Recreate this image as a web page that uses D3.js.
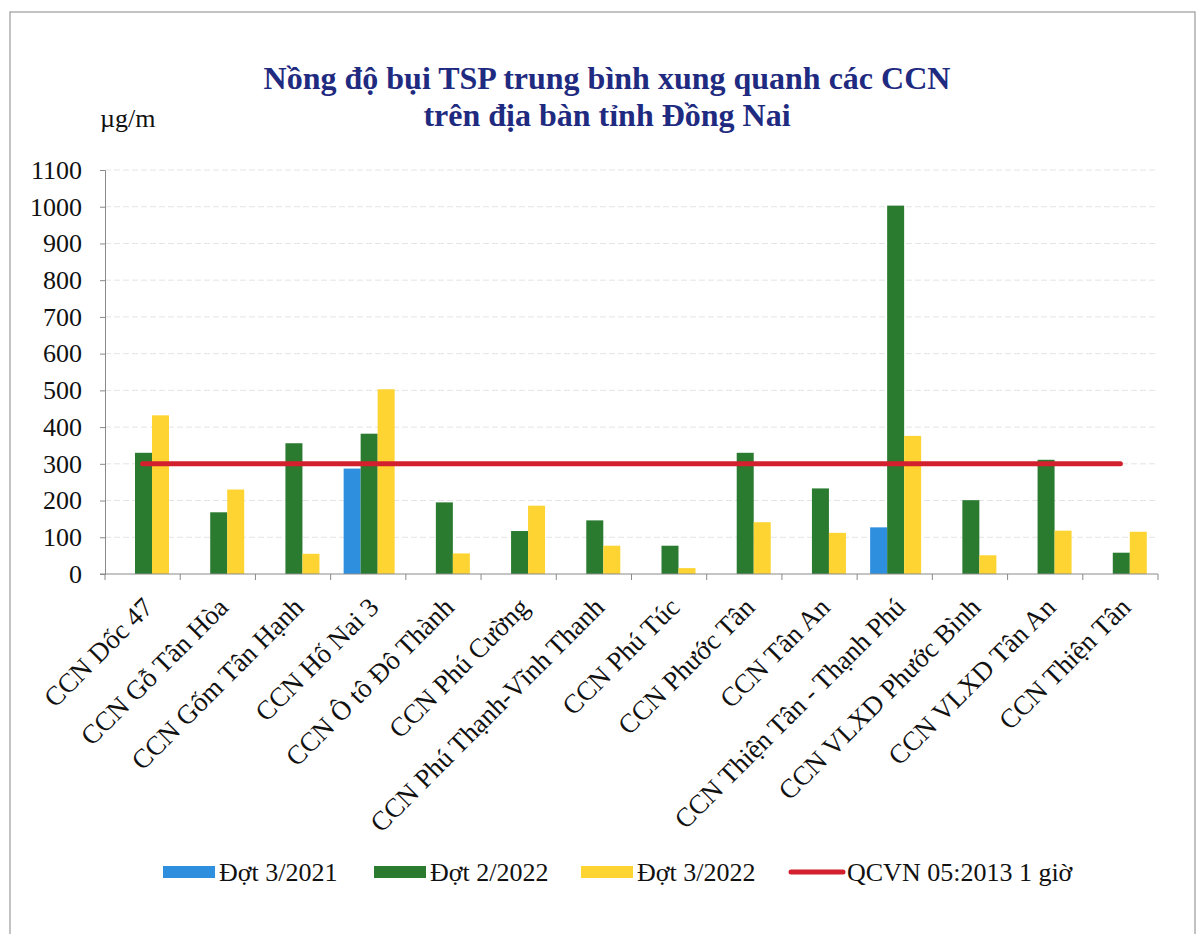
<!DOCTYPE html>
<html>
<head>
<meta charset="utf-8">
<script src="https://cdn.jsdelivr.net/npm/d3@7"></script>
<style>
  body { margin: 0; background: #fff; }
  svg text { font-family: "Liberation Serif", "Times New Roman", serif !important; }
</style>
</head>
<body>
<div id="chart"></div>
<script>
// Data
const categories = [
  "CCN Dốc 47", "CCN Gỗ Tân Hòa", "CCN Gốm Tân Hạnh", "CCN Hố Nai 3",
  "CCN Ô tô Đô Thành", "CCN Phú Cường", "CCN Phú Thạnh-Vĩnh Thanh", "CCN Phú Túc",
  "CCN Phước Tân", "CCN Tân An", "CCN Thiện Tân - Thạnh Phú", "CCN VLXD Phước Bình",
  "CCN VLXD Tân An", "CCN Thiện Tân"
];
const dot3_2021 = [null, null, null, 287, null, null, null, null, null, null, 127, null, null, null];
const dot2_2022 = [330, 168, 356, 382, 195, 117, 146, 77, 330, 233, 1003, 201, 311, 58];
const dot3_2022 = [432, 230, 55, 503, 56, 186, 77, 16, 141, 112, 376, 51, 118, 115];
const qcvn = [300, 300, 300, 300, 300, 300, 300, 300, 300, 300, 300, 300, 300, 300];
const yTicks = [0, 100, 200, 300, 400, 500, 600, 700, 800, 900, 1000, 1100];

const seriesNames = ["Đợt 3/2021", "Đợt 2/2022", "Đợt 3/2022"];
const seriesColors = ["#2f8fdf", "#2a7a2f", "#fdd431"];
const lineName = "QCVN 05:2013 1 giờ";
const lineColor = "#d2202f";

const FONT = "'Liberation Serif', 'Times New Roman', serif";
const W = 1204, H = 934;
const margin = { top: 170, left: 105, right: 46, bottom: 360 };
const width = W - margin.left - margin.right;
const height = H - margin.top - margin.bottom;

const svg = d3.select("#chart").append("svg")
  .attr("width", W).attr("height", H)
  .attr("font-family", FONT);

// outer frame
svg.append("rect")
  .attr("x", 10).attr("y", 12)
  .attr("width", 1185).attr("height", 940)
  .attr("fill", "none").attr("stroke", "#9a9a9a").attr("stroke-width", 1.2);

const g = svg.append("g").attr("transform", `translate(${margin.left},${margin.top})`);

// scales
const x0 = d3.scaleBand().domain(categories).range([0, width]);
const x1 = d3.scaleBand().domain(seriesNames).range([13, 64]);
const y = d3.scaleLinear().domain([0, 1100]).range([height, 0]);

// gridlines
g.append("g")
  .selectAll("line")
  .data(yTicks.slice(1))
  .join("line")
  .attr("x1", 0).attr("x2", width)
  .attr("y1", d => y(d)).attr("y2", d => y(d))
  .attr("stroke", "#e4e4e4")
  .attr("stroke-dasharray", "6,3");

// bars
const table = categories.map((c, i) => ({
  cat: c,
  vals: [dot3_2021[i], dot2_2022[i], dot3_2022[i]]
}));

const groups = g.selectAll(".grp")
  .data(table)
  .join("g")
  .attr("class", "grp")
  .attr("transform", d => `translate(${x0(d.cat)},0)`);

groups.selectAll("rect")
  .data(d => d.vals.map((v, k) => ({ k, v })).filter(e => e.v != null))
  .join("rect")
  .attr("x", e => x1(seriesNames[e.k]))
  .attr("width", x1.bandwidth())
  .attr("y", e => y(e.v))
  .attr("height", e => height - y(e.v))
  .attr("fill", e => seriesColors[e.k]);

// QCVN line
const line = d3.line()
  .x((d, i) => x0(categories[i]) + x0.bandwidth() / 2)
  .y(d => y(d));

g.append("path")
  .datum(qcvn)
  .attr("d", line)
  .attr("fill", "none")
  .attr("stroke", lineColor)
  .attr("stroke-width", 5)
  .attr("stroke-linecap", "round");

// y axis
const yAxis = g.append("g")
  .call(d3.axisLeft(y).tickValues(yTicks).tickFormat(d3.format("d")).tickSize(5).tickPadding(18))
  .attr("font-family", FONT);
yAxis.select(".domain").attr("stroke", "#8a8a8a");
yAxis.selectAll(".tick line").attr("stroke", "#8a8a8a");
yAxis.selectAll("text")
  .attr("font-size", 26)
  .attr("fill", "#111");

// x axis with ticks at band edges
const xAxis = g.append("g").attr("transform", `translate(0,${height})`);
xAxis.append("line")
  .attr("x1", -5).attr("x2", width)
  .attr("stroke", "#8a8a8a");
xAxis.selectAll(".edge")
  .data(categories.concat(["_end"]))
  .join("line")
  .attr("class", "edge")
  .attr("x1", (d, i) => i < categories.length ? x0(d) : width)
  .attr("x2", (d, i) => i < categories.length ? x0(d) : width)
  .attr("y1", 0).attr("y2", 6)
  .attr("stroke", "#8a8a8a");

xAxis.selectAll(".lbl")
  .data(categories)
  .join("text")
  .attr("class", "lbl")
  .attr("transform", d => `translate(${x0(d) + x0.bandwidth() / 2 + 12},${35}) rotate(-45)`)
  .attr("text-anchor", "end")
  .attr("font-size", 27)
  .attr("fill", "#111")
  .text(d => d);

// title
const title = svg.append("text")
  .attr("x", 607).attr("text-anchor", "middle")
  .attr("font-size", 32).attr("font-weight", "bold")
  .attr("fill", "#1f2b80");
title.append("tspan").attr("x", 607).attr("y", 89).text("Nồng độ bụi TSP trung bình xung quanh các CCN");
title.append("tspan").attr("x", 607).attr("y", 126).text("trên địa bàn tỉnh Đồng Nai");

// unit
svg.append("text")
  .attr("x", 100).attr("y", 127)
  .attr("font-size", 26).attr("fill", "#111")
  .text("µg/m");

// legend
const legendItems = [
  { name: seriesNames[0], color: seriesColors[0], x: 163, type: "rect" },
  { name: seriesNames[1], color: seriesColors[1], x: 374, type: "rect" },
  { name: seriesNames[2], color: seriesColors[2], x: 581, type: "rect" },
  { name: lineName, color: lineColor, x: 789, type: "line" }
];
const legend = svg.append("g").attr("transform", "translate(0,872)");
legendItems.forEach(it => {
  if (it.type === "rect") {
    legend.append("rect")
      .attr("x", it.x).attr("y", -6)
      .attr("width", 52).attr("height", 12)
      .attr("fill", it.color);
  } else {
    legend.append("line")
      .attr("x1", it.x + 2).attr("x2", it.x + 54)
      .attr("y1", 0).attr("y2", 0)
      .attr("stroke", it.color).attr("stroke-width", 5)
      .attr("stroke-linecap", "round");
  }
  legend.append("text")
    .attr("x", it.x + (it.type === "rect" ? 56 : 58))
    .attr("y", 9)
    .attr("font-size", 26).attr("fill", "#111")
    .text(it.name);
});
</script>
</body>
</html>
